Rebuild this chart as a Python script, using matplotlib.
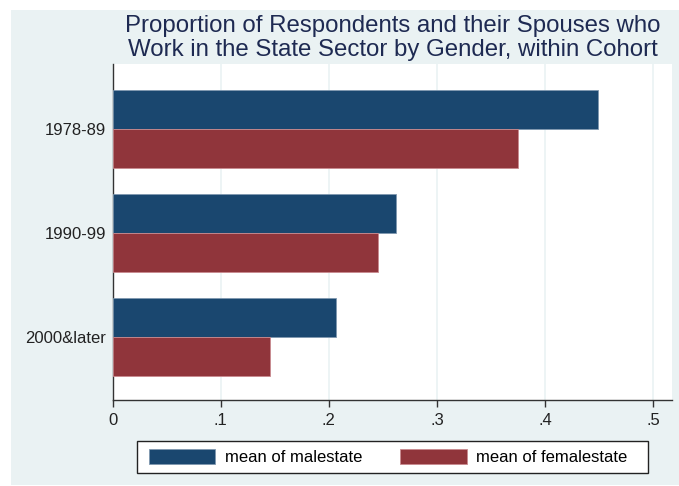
import numpy as np
import matplotlib.pyplot as plt
import matplotlib.patches as mpatches

plt.rcParams['font.family'] = ['Liberation Sans', 'DejaVu Sans']

cohorts = ['1978-89', '1990-99', '2000&later']
male_state = [0.4487, 0.2618, 0.2066]
female_state = [0.3746, 0.2451, 0.1455]
xticks = [0, 0.1, 0.2, 0.3, 0.4, 0.5]
xtick_labels = ['0', '.1', '.2', '.3', '.4', '.5']

c_male = '#1a476f'
c_female = '#90353b'
bg = '#eaf2f3'

W, H = 679, 486
fig = plt.figure(figsize=(W / 100, H / 100), dpi=100)
fig.patch.set_facecolor('white')
# fond gris-bleu style Stata
fig.patches.append(mpatches.Rectangle((11 / W, 1 / H), 1, (H - 11) / H,
                                      transform=fig.transFigure, facecolor=bg,
                                      edgecolor='none', zorder=-10))

ax = fig.add_axes([112.7 / W, (H - 400) / H, (672.3 - 112.7) / W, (400 - 64) / H])
ax.set_facecolor('white')

y = np.arange(len(cohorts))
h = 0.375
ax.barh(y - h / 2, male_state, height=h, color=c_male, edgecolor='#7f98b0',
        linewidth=0.6, label='mean of malestate', zorder=3)
ax.barh(y + h / 2, female_state, height=h, color=c_female, edgecolor='#c98a8f',
        linewidth=0.6, label='mean of femalestate', zorder=3)

ax.set_xlim(0, 0.5177)
ax.set_ylim(2.609, -0.622)
ax.set_xticks(xticks)
ax.set_xticklabels(xtick_labels, fontsize=12, color='#222222')
ax.set_yticks(y)
ax.set_yticklabels(cohorts, fontsize=12, color='#222222')
ax.tick_params(axis='y', length=0, pad=4.5)
ax.tick_params(axis='x', length=5, width=1, color='#333333', pad=4)
ax.grid(axis='x', color=bg, linewidth=1.2, zorder=0)

for s in ['top', 'right']:
    ax.spines[s].set_visible(False)
for s in ['left', 'bottom']:
    ax.spines[s].set_color('#333333')
    ax.spines[s].set_linewidth(1)

ax.set_title('Proportion of Respondents and their Spouses who\n'
             'Work in the State Sector by Gender, within Cohort',
             fontsize=17.3, color='#1e2a52', pad=6, linespacing=1.12)

# cadre de la légende dessiné à part (plus large que le contenu, comme Stata)
fig.patches.append(mpatches.Rectangle((137 / W, (H - 473) / H), 511 / W, 32 / H,
                                      transform=fig.transFigure, facecolor='white',
                                      edgecolor='#222222', linewidth=1, zorder=5))
leg = fig.legend(loc='center', bbox_to_anchor=(388 / W, (H - 456.7) / H),
                 ncol=2, fontsize=12, frameon=False,
                 handlelength=4.0, handleheight=1.0, columnspacing=2.3,
                 handletextpad=0.55, borderpad=0.4, borderaxespad=0)
leg.set_zorder(6)

fig.savefig('out.png', dpi=100, facecolor=fig.get_facecolor())
